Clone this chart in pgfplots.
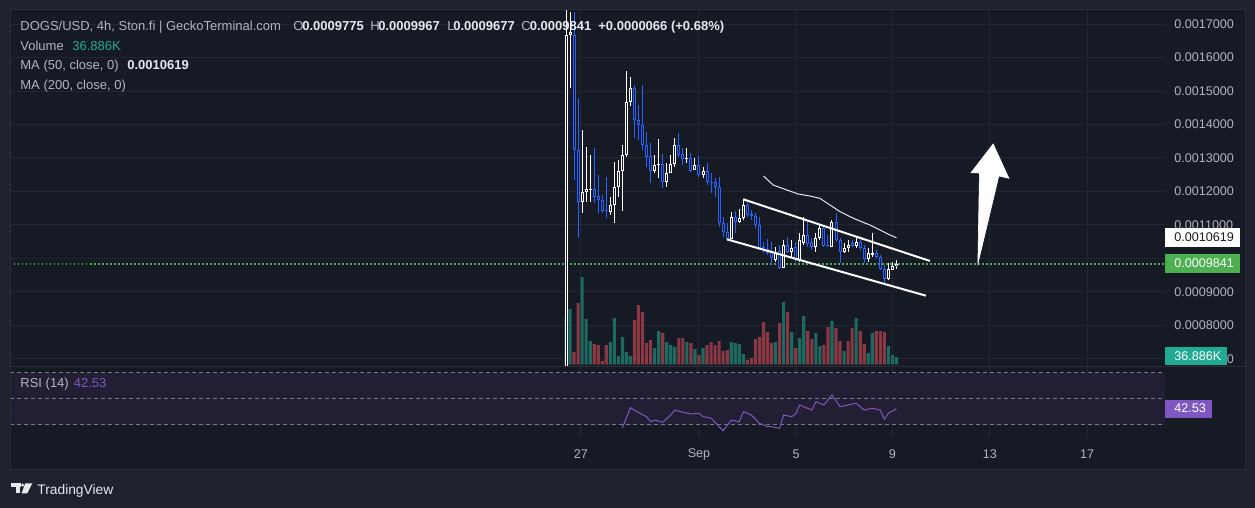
\documentclass[border=0pt]{standalone}
\usepackage{fontspec}
\setmainfont{Liberation Sans}
\usepackage{pgfplots}
\pgfplotsset{compat=1.18}
\usepackage{pgfplotstable}

\definecolor{outerbg}{HTML}{1E222D}
\definecolor{chartbg}{HTML}{161A25}
\definecolor{gridc}{HTML}{232632}
\definecolor{sepc}{HTML}{2A2E39}
\definecolor{txtg}{HTML}{B2B5BE}
\definecolor{txtw}{HTML}{E6E8EE}
\definecolor{cblue}{HTML}{2962FF}
\definecolor{volup}{HTML}{1D6B60}
\definecolor{voldn}{HTML}{8A3844}
\definecolor{tealbox}{HTML}{22AB94}
\definecolor{greenbox}{HTML}{4CAF50}
\definecolor{purp}{HTML}{7E57C2}
\definecolor{dashg}{HTML}{787B86}
\definecolor{bandc}{HTML}{221F35}

\newcommand\lbl{\fontsize{6.3pt}{7pt}\selectfont}
\newcommand\hfont{\fontsize{6.5pt}{7.5pt}\selectfont}

\pgfplotsset{
  pane/.style={scale only axis, width=577.5pt, xmin=-137.97, xmax=148.64, anchor=north west, clip=true, scaled y ticks=false, scaled x ticks=false},
  candle/.style 2 args={draw=none, mark=none, error bars/.cd, y dir=plus, y explicit, error mark=none, error bar style={draw=#1, line width=#2}},
}

% i = 4h candle index; o h l c = price (USD); u = 1 white (up) / 0 blue (down); v = volume (K); vu = 1 teal / 0 red
\pgfplotstableread{
i o h l c u v vu
0 0.0004000 0.0017700 0.0004000 0.0016672 1 240 1
1 0.0016672 0.0017358 0.0015090 0.0016761 1 277 1
2 0.0016672 0.0017358 0.0012343 0.0013239 0 62 0
3 0.0013239 0.0014791 0.0010612 0.0011687 0 307 0
4 0.0011687 0.0013836 0.0011358 0.0011985 1 437 1
5 0.0011985 0.0013328 0.0011687 0.0012075 1 227 1
6 0.0012045 0.0013090 0.0011687 0.0012075 1 117 1
7 0.0012075 0.0013299 0.0011657 0.0011836 0 102 0
8 0.0011866 0.0012493 0.0011358 0.0011746 0 97 0
9 0.0011746 0.0011896 0.0011358 0.0011418 0 17 0
10 0.0011448 0.0012433 0.0011209 0.0011418 0 97 0
11 0.0011388 0.0011836 0.0011299 0.0011597 1 112 1
12 0.0011597 0.0012881 0.0011060 0.0012134 1 232 1
13 0.0012134 0.0012940 0.0011836 0.0012612 1 42 1
14 0.0012612 0.0013388 0.0011418 0.0013090 1 137 1
15 0.0013090 0.0015597 0.0013030 0.0014672 1 62 1
16 0.0014672 0.0015418 0.0014552 0.0015090 1 42 1
17 0.0015090 0.0015179 0.0013597 0.0014134 0 222 0
18 0.0014134 0.0014582 0.0013537 0.0013985 0 297 0
19 0.0013985 0.0015179 0.0013239 0.0013388 0 262 0
20 0.0013388 0.0013776 0.0012731 0.0013030 0 107 0
21 0.0013060 0.0013448 0.0012254 0.0012612 0 122 0
22 0.0012612 0.0013090 0.0012552 0.0012791 1 82 1
23 0.0012791 0.0013567 0.0012403 0.0012821 1 167 1
24 0.0012821 0.0013120 0.0012105 0.0012284 0 157 0
25 0.0012284 0.0012851 0.0012134 0.0012552 1 112 1
26 0.0012552 0.0013090 0.0012552 0.0012821 1 97 1
27 0.0012821 0.0013597 0.0012731 0.0013388 1 87 1
28 0.0013388 0.0013746 0.0013030 0.0013090 0 132 0
29 0.0013120 0.0013299 0.0012791 0.0012970 0 132 0
30 0.0012970 0.0013299 0.0012851 0.0013000 1 112 1
31 0.0013000 0.0013149 0.0012582 0.0012612 0 107 0
32 0.0012642 0.0013000 0.0012642 0.0012791 1 77 1
33 0.0012791 0.0013060 0.0012433 0.0012493 0 47 0
34 0.0012493 0.0012731 0.0012403 0.0012612 1 82 1
35 0.0012612 0.0012851 0.0012194 0.0012284 0 97 0
36 0.0012284 0.0012552 0.0011955 0.0012254 0 112 0
37 0.0012284 0.0012403 0.0011836 0.0012134 0 97 0
38 0.0012134 0.0012433 0.0010940 0.0011060 0 117 0
39 0.0011060 0.0011239 0.0010642 0.0010791 0 67 0
40 0.0010791 0.0011060 0.0010523 0.0010582 0 72 0
41 0.0010582 0.0011388 0.0010582 0.0011239 1 112 1
42 0.0011239 0.0011418 0.0010761 0.0011090 0 107 1
43 0.0011090 0.0011478 0.0011060 0.0011209 1 102 1
44 0.0011209 0.0011776 0.0011149 0.0011597 1 52 1
45 0.0011597 0.0011657 0.0011239 0.0011299 0 22 0
46 0.0011329 0.0011448 0.0011149 0.0011269 0 32 0
47 0.0011269 0.0011358 0.0010911 0.0011000 0 127 0
48 0.0011000 0.0011239 0.0010254 0.0010314 0 137 0
49 0.0010343 0.0010493 0.0010164 0.0010254 0 212 0
50 0.0010284 0.0010582 0.0010105 0.0010164 0 162 0
51 0.0010224 0.0010493 0.0009806 0.0010015 0 107 0
52 0.0009955 0.0010343 0.0009896 0.0010164 1 112 1
53 0.0010224 0.0010403 0.0009687 0.0009717 0 207 0
54 0.0009717 0.0010552 0.0009717 0.0010403 1 312 1
55 0.0010403 0.0010642 0.0010164 0.0010194 0 262 0
56 0.0010194 0.0010552 0.0010045 0.0010314 1 162 1
57 0.0010343 0.0010493 0.0009896 0.0009955 0 82 0
58 0.0009955 0.0010761 0.0009896 0.0010552 1 132 1
59 0.0010463 0.0011239 0.0010403 0.0010702 1 242 1
60 0.0010702 0.0011149 0.0010343 0.0010433 0 167 0
61 0.0010493 0.0010612 0.0010254 0.0010343 0 127 0
62 0.0010343 0.0010761 0.0010194 0.0010612 1 157 1
63 0.0010612 0.0011000 0.0010552 0.0010911 1 92 1
64 0.0010911 0.0011000 0.0010343 0.0010373 0 97 0
65 0.0010403 0.0010702 0.0010343 0.0010373 0 187 0
66 0.0010343 0.0011149 0.0010343 0.0011090 1 217 1
67 0.0011090 0.0011358 0.0010493 0.0010552 0 182 0
68 0.0010552 0.0010612 0.0009866 0.0010194 0 117 0
69 0.0010194 0.0010463 0.0010164 0.0010314 1 67 1
70 0.0010314 0.0010552 0.0010194 0.0010403 1 117 0
71 0.0010463 0.0010552 0.0010343 0.0010373 0 182 0
72 0.0010373 0.0010612 0.0010314 0.0010493 1 232 1
73 0.0010493 0.0010552 0.0010254 0.0010314 0 167 0
74 0.0010314 0.0010403 0.0009866 0.0009985 0 102 0
75 0.0009985 0.0010314 0.0009896 0.0010164 1 57 1
76 0.0010105 0.0010761 0.0010045 0.0010164 1 157 1
77 0.0010164 0.0010254 0.0010015 0.0010045 0 167 0
78 0.0010045 0.0010105 0.0009657 0.0009687 0 167 0
79 0.0009687 0.0009806 0.0009269 0.0009388 0 162 0
80 0.0009388 0.0009866 0.0009358 0.0009687 1 92 1
81 0.0009657 0.0009896 0.0009657 0.0009776 1 47 1
82 0.0009775 0.0009967 0.0009677 0.0009841 1 36.886 1
}\candles

\begin{document}
\begin{tikzpicture}
\useasboundingbox (0,0) rectangle (627.5pt,-254pt);
\begin{scope}[x=0.5pt,y=-0.5pt]
  \fill[outerbg] (0,0) rectangle (1255,508);
  \fill[chartbg] (10,10) rectangle (1245,469);
\end{scope}

% price pane grid + price scale labels (0.0010000 and most of 0.0007000 sit under the value boxes)
\begin{axis}[pane, at={(5pt,-5pt)}, height=178pt,
  ymin=0.0006791, ymax=0.0017418,
  xtick={3.7,33,57.1,81,105.2,129.3}, xticklabels=\empty,
  ytick={0.0007,0.0008,0.0009,0.001,0.0011,0.0012,0.0013,0.0014,0.0015,0.0016,0.0017},
  yticklabels={\phantom{0.000700}0,0.0008000,0.0009000,{},0.0011000,0.0012000,0.0013000,0.0014000,0.0015000,0.0016000,0.0017000},
  yticklabel pos=right,
  grid=major, grid style={gridc, line width=0.5pt},
  axis line style={draw=none}, major tick length=0pt,
  /pgf/number format/assume math mode=true,
  yticklabel style={font=\lbl, text=txtg, anchor=west, inner sep=0pt, xshift=4.5pt}]
  \addplot[draw=none] coordinates {(0,0.001)};
\end{axis}

% RSI pane
\begin{axis}[pane, at={(5pt,-183pt)}, height=35.5pt,
  ymin=20.77, ymax=75.38,
  xtick={3.7,33,57.1,81,105.2,129.3}, xticklabels={27,Sep,5,9,13,17},
  ytick=\empty,
  xmajorgrids, grid style={gridc, line width=0.5pt},
  axis line style={draw=none}, major tick length=0pt,
  /pgf/number format/assume math mode=true,
  xticklabel style={font=\lbl, text=txtg, anchor=center, yshift=-8.5pt}]
  \addplot[fill=bandc, draw=none] coordinates {(-137.97,30) (148.64,30) (148.64,70) (-137.97,70)} -- cycle;
  \addplot[gridc, line width=0.5pt] coordinates {(-137.97,40) (148.64,40)};
  \addplot[dashg, line width=0.5pt, dash pattern=on 2pt off 1.5pt] coordinates {(-137.97,70) (148.64,70)};
  \addplot[dashg, line width=0.5pt, dash pattern=on 2pt off 1.5pt] coordinates {(-137.97,50) (148.64,50)};
  \addplot[dashg, line width=0.5pt, dash pattern=on 2pt off 1.5pt] coordinates {(-137.97,30) (148.64,30)};
  \addplot[purp, line width=0.5pt] coordinates {
    (14,27.9) (16,43.3) (18,39.5) (20,36.4) (21,32.5) (22,33.8) (24,32.1) (26,37.7) (27,41.5) (29,39.8)
    (31,38.5) (33,39.0) (34,36.4) (36,35.2) (38,28.7) (39,25.6) (41,33.8) (43,32.5) (44,40.2) (46,37.7)
    (48,31.3) (50,28.7) (51,28.7) (53,27.5) (54,37.7) (56,36.4) (57,38.5) (58,45.4) (60,42.8) (61,41.5)
    (62,47.9) (64,45.4) (66,53.1) (68,44.1) (70,45.4) (72,46.7) (74,41.5) (76,42.8) (78,41.5) (79,34.4)
    (80,39.0) (82,42.53)};
\end{axis}

% volume
\begin{axis}[pane, hide axis, at={(5pt,-5pt)}, height=178pt, ymin=-7.5, ymax=1772.5]
  \addplot[ybar, bar width=0.78, bar shift=0pt, fill=volup, draw=none]
    table[x=i, y expr={\thisrow{vu}>0.5 ? \thisrow{v} : 0}] {\candles};
  \addplot[ybar, bar width=0.78, bar shift=0pt, fill=voldn, draw=none]
    table[x=i, y expr={\thisrow{vu}<0.5 ? \thisrow{v} : 0}] {\candles};
\end{axis}

% candles
\begin{axis}[pane, hide axis, at={(5pt,-5pt)}, height=178pt, ymin=0.0006791, ymax=0.0017418]
  \addplot[greenbox, line width=0.75pt, dash pattern=on 0.75pt off 1.25pt] coordinates {(-137.97,0.0009841) (148.64,0.0009841)};
  \addplot[txtw, line width=0.5pt] coordinates {(49,0.0012463) (51.4,0.0012194) (54.8,0.0012045) (57.6,0.0011925) (60.5,0.0011866) (63,0.0011797) (65.5,0.0011597) (68,0.0011397) (71.3,0.0011200) (75.4,0.0011000) (77.9,0.0010851) (80.4,0.0010702) (82,0.0010619)};
  % wicks
  \addplot[candle={white}{0.5pt}]
    table[x=i, y expr={\thisrow{u}>0.5 ? \thisrow{l} : 0.0005}, y error plus expr={\thisrow{u}>0.5 ? \thisrow{h}-\thisrow{l} : 0}] {\candles};
  \addplot[candle={cblue}{0.5pt}]
    table[x=i, y expr={\thisrow{u}<0.5 ? \thisrow{l} : 0.0005}, y error plus expr={\thisrow{u}<0.5 ? \thisrow{h}-\thisrow{l} : 0}] {\candles};
  % bodies
  \addplot[candle={white}{1.5pt}]
    table[x=i, y expr={\thisrow{u}>0.5 ? min(\thisrow{o},\thisrow{c}) : 0.0005}, y error plus expr={\thisrow{u}>0.5 ? max(abs(\thisrow{c}-\thisrow{o}),0.000003) : 0}] {\candles};
  \addplot[candle={cblue}{1.5pt}]
    table[x=i, y expr={\thisrow{u}<0.5 ? min(\thisrow{o},\thisrow{c}) : 0.0005}, y error plus expr={\thisrow{u}<0.5 ? max(abs(\thisrow{c}-\thisrow{o}),0.000003) : 0}] {\candles};
  % hollow interior
  \addplot[candle={chartbg}{0.5pt}]
    table[x=i, y expr={min(\thisrow{o},\thisrow{c})+0.000003}, y error plus expr={max(abs(\thisrow{c}-\thisrow{o})-0.000006,0)}] {\candles};
  % channel and arrow drawings
  \addplot[white, line width=1pt] coordinates {(43.98,0.0011767) (90.3,0.0009926)};
  \addplot[white, line width=1pt] coordinates {(39.9,0.0010573) (89.3,0.0008890)};
  \addplot[fill=white, draw=white, line width=0.3pt] coordinates {(102.2,0.0009836) (102.6,0.0012552) (100.5,0.0012561) (106.0,0.0013418) (109.9,0.0012394) (107.4,0.0012463)} -- cycle;
\end{axis}

\begin{scope}[x=0.5pt,y=-0.5pt]
  \draw[sepc, line width=0.5pt] (10,366) -- (1245,366);
  \draw[sepc, line width=0.5pt] (10,10) rectangle (1245,469);
  % price scale boxes
  \fill[white] (1165,228) rectangle (1240,247);
  \node[anchor=west, inner sep=0pt, text=chartbg, font=\lbl] at (1174,237.5) {0.0010619};
  \fill[greenbox] (1165,254) rectangle (1240,273);
  \node[anchor=west, inner sep=0pt, text=white, font=\lbl] at (1174,263.5) {0.0009841};
  \fill[tealbox] (1165,347) rectangle (1227,365);
  \node[anchor=west, inner sep=0pt, text=white, font=\lbl] at (1174,356) {36.886K};
  \fill[purp] (1165,399.5) rectangle (1212,417.5);
  \node[anchor=west, inner sep=0pt, text=white, font=\lbl] at (1174,408.5) {42.53};
  % legend texts
  \node[anchor=base west, inner sep=0pt, text=txtg, font=\hfont] at (20,30.5) {DOGS/USD, 4h, Ston.fi | GeckoTerminal.com};
  \node[anchor=base west, inner sep=0pt, text=txtg, font=\hfont] at (293,30.5) {O};
  \node[anchor=base west, inner sep=0pt, text=txtw, font=\hfont\bfseries] at (302,30.5) {0.0009775};
  \node[anchor=base west, inner sep=0pt, text=txtg, font=\hfont] at (370,30.5) {H};
  \node[anchor=base west, inner sep=0pt, text=txtw, font=\hfont\bfseries] at (378,30.5) {0.0009967};
  \node[anchor=base west, inner sep=0pt, text=txtg, font=\hfont] at (447,30.5) {L};
  \node[anchor=base west, inner sep=0pt, text=txtw, font=\hfont\bfseries] at (453,30.5) {0.0009677};
  \node[anchor=base west, inner sep=0pt, text=txtg, font=\hfont] at (521,30.5) {C};
  \node[anchor=base west, inner sep=0pt, text=txtw, font=\hfont\bfseries] at (529.5,30.5) {0.0009841};
  \node[anchor=base west, inner sep=0pt, text=txtw, font=\hfont\bfseries] at (598,30.5) {+0.0000066 (+0.68\%)};
  \node[anchor=base west, inner sep=0pt, text=txtg, font=\hfont] at (20,51) {Volume};
  \node[anchor=base west, inner sep=0pt, text=tealbox, font=\hfont] at (72,51) {36.886K};
  \node[anchor=base west, inner sep=0pt, text=txtg, font=\hfont] at (20,70) {MA (50, close, 0)};
  \node[anchor=base west, inner sep=0pt, text=txtw, font=\hfont\bfseries] at (127,70) {0.0010619};
  \node[anchor=base west, inner sep=0pt, text=txtg, font=\hfont] at (20,89.5) {MA (200, close, 0)};
  \node[anchor=base west, inner sep=0pt, text=txtg, font=\hfont] at (20,387) {RSI (14)};
  \node[anchor=base west, inner sep=0pt, text=purp, font=\hfont] at (73.5,387) {42.53};
  % TradingView logo
  \fill[txtw] (11,483.3) rectangle (20.7,486.8);
  \fill[txtw] (15.7,483.3) rectangle (20.3,493.3);
  \fill[txtw] (22.6,485.1) circle (1.7);
  \fill[txtw] (25.3,483.3) -- (32.3,483.3) -- (27.3,493.3) -- (21.6,493.3) -- cycle;
  \node[anchor=base west, inner sep=0pt, text=txtw, font=\fontsize{6.9pt}{8pt}\selectfont] at (37,494.5) {TradingView};
\end{scope}
\end{tikzpicture}
\end{document}
